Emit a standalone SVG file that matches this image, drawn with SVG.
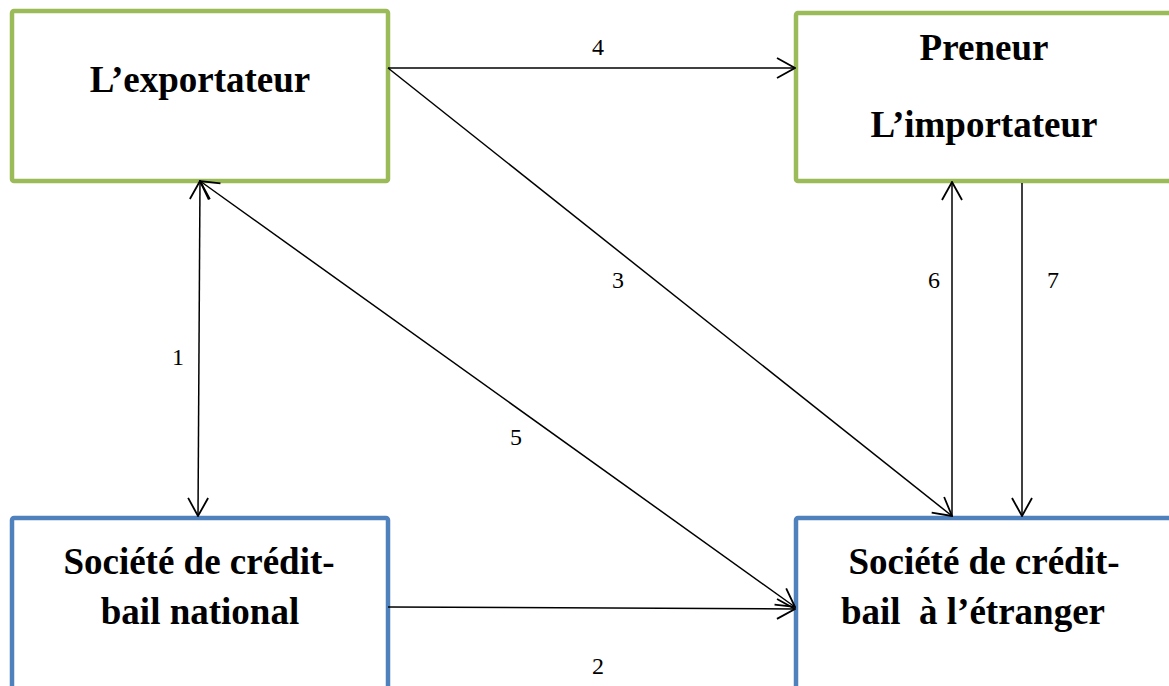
<svg xmlns="http://www.w3.org/2000/svg" width="1169" height="686" viewBox="0 0 1169 686">
  <style>
    .box { fill: #ffffff; stroke-width: 4.5; }
    .green { stroke: #9BBB59; }
    .blue { stroke: #4F81BD; }
    .title { font-family: "Liberation Serif", "Times New Roman", serif; font-weight: bold; font-size: 37px; fill: #000000; text-anchor: middle; }
    .num { font-family: "Liberation Serif", "Times New Roman", serif; font-size: 24px; fill: #000000; text-anchor: middle; }
    .link { stroke: #000000; stroke-width: 1.5; fill: none; }
  </style>
  <defs>
    <marker id="arrow" viewBox="0 0 20 24" refX="19" refY="12" markerWidth="20" markerHeight="24" markerUnits="userSpaceOnUse" orient="auto-start-reverse">
      <path d="M1,2 L19,12 L1,22" fill="none" stroke="#000000" stroke-width="1.8"/>
    </marker>
  </defs>
  <rect width="1169" height="686" fill="#ffffff"/>

  <g id="exportateur">
    <rect class="box green" x="12" y="11" width="376" height="170" rx="2"/>
    <text class="title" x="200" y="92">L’exportateur</text>
  </g>

  <g id="importateur">
    <rect class="box green" x="796" y="13" width="380" height="168" rx="2"/>
    <text class="title" x="984" y="60">Preneur</text>
    <text class="title" x="984" y="137">L’importateur</text>
  </g>

  <g id="credit-bail-national">
    <rect class="box blue" x="12" y="518" width="376" height="180" rx="2"/>
    <text class="title" x="199" y="574">Société de crédit-</text>
    <text class="title" x="200" y="624">bail national</text>
  </g>

  <g id="credit-bail-etranger">
    <rect class="box blue" x="796" y="518" width="380" height="180" rx="2"/>
    <text class="title" x="984" y="574">Société de crédit-</text>
    <text class="title" x="973" y="624" xml:space="preserve">bail  à l’étranger</text>
  </g>

  <g id="connectors">
    <line class="link" x1="200" y1="181" x2="198" y2="516" marker-start="url(#arrow)" marker-end="url(#arrow)"/>
    <line class="link" x1="388" y1="607" x2="795" y2="609" marker-end="url(#arrow)"/>
    <line class="link" x1="388" y1="68" x2="952" y2="516" marker-end="url(#arrow)"/>
    <line class="link" x1="388" y1="68" x2="795" y2="68" marker-end="url(#arrow)"/>
    <line class="link" x1="200" y1="181" x2="795" y2="607" marker-start="url(#arrow)" marker-end="url(#arrow)"/>
    <line class="link" x1="952" y1="516" x2="952" y2="182" marker-end="url(#arrow)"/>
    <line class="link" x1="1022" y1="183" x2="1022" y2="516" marker-end="url(#arrow)"/>

    <text class="num" x="178" y="365">1</text>
    <text class="num" x="598" y="674">2</text>
    <text class="num" x="618" y="288">3</text>
    <text class="num" x="598" y="55">4</text>
    <text class="num" x="516" y="445">5</text>
    <text class="num" x="934" y="288">6</text>
    <text class="num" x="1053" y="288">7</text>
  </g>
</svg>
